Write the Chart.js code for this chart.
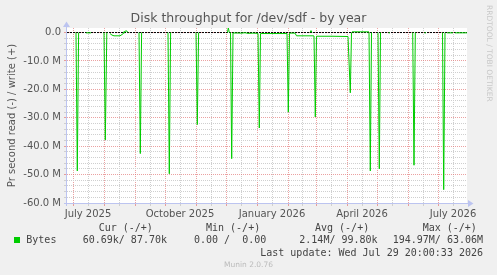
<!DOCTYPE html>
<html>
<head>
<meta charset="utf-8">
<title>Disk throughput for /dev/sdf - by year</title>
<script src="https://cdn.jsdelivr.net/npm/chart.js@4.4.1/dist/chart.umd.min.js"></script>
<style>
  html, body { margin: 0; padding: 0; background: #F0F0F0; }
  #wrap { width: 497px; height: 275px; }
</style>
</head>
<body>
<div id="wrap"><canvas id="chart" width="497" height="275"></canvas></div>
<script>
// Disk throughput for /dev/sdf - by year (munin style graph)

// x = days since 2025-06-25, 400 days shown
const monthStartDays = [6, 37, 68, 98, 129, 159, 190, 221, 249, 280, 310, 341, 371];
const midMonthDays = [21, 52, 83, 113, 144, 174, 205, 235, 264, 295, 325, 356, 386];
const xLabelDays = [21, 113, 205, 295, 386];
const xLabels = ['July 2025', 'October 2025', 'January 2026', 'April 2026', 'July 2026'];

// y in MB per second, read is drawn negative; null = no data
const readDays = [
  9, 10.3, 11.6, 12,
  19, 24, 25,
  37, 38.3, 39.8, 40,
  43, 45, 47, 53, 55, 57, 58, 59,
  72, 73.3, 74.6, 75,
  101, 102.3, 103.6, 104,
  129, 130.3, 131.6, 132,
  163.5, 164.7, 166, 175, 178, 181, 186, 191, 192.3, 193.5, 205, 220, 221.3, 222.5, 228, 229.5, 246, 247, 248.3, 249.5, 265, 281, 283.3, 284.5, 285,
  302, 303.3, 304.5, 305,
  311, 312.3, 313.5, 314,
  321.5, 323, 324,
  345.7, 347, 348.3, 349,
  357.5, 359, 360,
  375.5, 376.7, 378, 379,
  380, 386, 387,
  388, 400
];
const readValues = [
  0, -48.7, 0, null,
  -0.1, -0.1, null,
  0, -37.8, 0, null,
  -0.35, -0.9, -1.15, -1.15, -0.7, -0.1, 0, null,
  0, -42.6, 0, null,
  0, -49.7, 0, null,
  0, -32.4, 0, null,
  0, -44.4, -0.15, -0.2, -0.05, -0.3, -0.2, -0.3, -33.6, -0.35, -0.35, -0.35, -28.0, -0.2, -0.2, -1.15, -1.15, -1.2, -29.7, -1.3, -1.3, -1.4, -21.2, 0, null,
  0, -48.7, 0, null,
  0, -48.0, 0, null,
  -0.1, -0.1, null,
  0, -46.7, 0, null,
  -0.1, -0.1, null,
  0, -55.3, 0, null,
  -0.1, -0.1, null,
  -0.1, -0.1
];
const writeDays = [56, 58, 59, 60, 61, 62, 160.5, 161.3, 162.3, 163, 243, 244, 245, 246, 285, 302, 303];
const writeValues = [0, 0.4, 0.6, 0.5, 0, null, 0, 1.75, 0, null, 0, 0.7, 0, null, 0.25, 0.25, null];

const yTickValues = Array.from({ length: 31 }, (_, i) => -60 + 2 * i);

// legend
const legendHeaders = ['Cur (-/+)', 'Min (-/+)', 'Avg (-/+)', 'Max (-/+)'];
const legendValues = ['60.69k/ 87.70k', '0.00 /  0.00', '2.14M/ 99.80k', '194.97M/ 63.06M'];
const seriesName = 'Bytes';
const lastUpdate = 'Last update: Wed Jul 29 20:00:33 2026';

const GREEN = '#00CC00';
const MAJOR_GRID = 'rgba(225, 110, 110, 0.65)';
const MINOR_GRID = '#CFCFCF';
const AXIS = '#BCC4F0';

function toPoints(days, values) {
    return days.map((d, i) => ({ x: d, y: values[i] }));
}

const rrdDecor = {
    id: 'rrdDecor',
    beforeDraw(chart) {
        const { ctx, chartArea: a } = chart;
        ctx.save();
        ctx.fillStyle = '#F0F0F0';
        ctx.fillRect(0, 0, chart.width, chart.height);
        ctx.fillStyle = '#FFFFFF';
        ctx.fillRect(a.left, a.top, a.right - a.left, a.bottom - a.top);
        ctx.restore();
    },
    afterDraw(chart) {
        const { ctx, chartArea: a } = chart;
        ctx.save();

        // axes with arrows
        ctx.strokeStyle = AXIS;
        ctx.fillStyle = AXIS;
        ctx.lineWidth = 1;
        ctx.beginPath();
        ctx.moveTo(a.left - 0.5, a.bottom + 3);
        ctx.lineTo(a.left - 0.5, a.top - 2);
        ctx.moveTo(a.left - 3, a.bottom + 0.5);
        ctx.lineTo(a.right + 2, a.bottom + 0.5);
        ctx.stroke();
        ctx.beginPath();
        ctx.moveTo(a.left - 0.5, a.top - 6.5);
        ctx.lineTo(a.left - 4, a.top - 1);
        ctx.lineTo(a.left + 3, a.top - 1);
        ctx.closePath();
        ctx.fill();
        ctx.beginPath();
        ctx.moveTo(a.right + 6.5, a.bottom + 0.5);
        ctx.lineTo(a.right + 1, a.bottom - 3);
        ctx.lineTo(a.right + 1, a.bottom + 4);
        ctx.closePath();
        ctx.fill();

        // title
        ctx.fillStyle = '#555555';
        ctx.font = '12.5px "DejaVu Sans"';
        ctx.textAlign = 'center';
        ctx.textBaseline = 'alphabetic';
        ctx.fillText('Disk throughput for /dev/sdf - by year', 248.5, 22);

        // y axis title
        ctx.save();
        ctx.translate(15, (a.top + a.bottom) / 2);
        ctx.rotate(-Math.PI / 2);
        ctx.font = '10px "DejaVu Sans"';
        ctx.fillText('Pr second read (-) / write (+)', 0, 0);
        ctx.restore();

        // watermark
        ctx.save();
        ctx.translate(487, 5);
        ctx.rotate(Math.PI / 2);
        ctx.fillStyle = '#C8C8C8';
        ctx.font = '7.5px "DejaVu Sans"';
        ctx.textAlign = 'left';
        ctx.fillText('RRDTOOL / TOBI OETIKER', 0, 0);
        ctx.restore();

        // legend
        ctx.fillStyle = '#444444';
        ctx.font = '10px "DejaVu Sans Mono"';
        ctx.textAlign = 'left';
        const headerX = [98.7, 206, 315, 422.7];
        legendHeaders.forEach((h, i) => ctx.fillText(h, headerX[i], 231));
        ctx.fillText(seriesName, 26.3, 243);
        const valueX = [82.7, 194, 299.3, 392.7];
        legendValues.forEach((v, i) => ctx.fillText(v, valueX[i], 243));
        ctx.textAlign = 'right';
        ctx.fillText(lastUpdate, 483, 255.5);
        ctx.fillStyle = GREEN;
        ctx.fillRect(14, 237, 6, 6);

        ctx.fillStyle = '#BBBBBB';
        ctx.font = '7.5px "DejaVu Sans"';
        ctx.textAlign = 'center';
        ctx.fillText('Munin 2.0.76', 248.5, 266.5);

        ctx.restore();
    }
};

new Chart(document.getElementById('chart'), {
    type: 'line',
    data: {
        datasets: [
            {
                label: 'zero',
                data: [{ x: 0, y: 0 }, { x: 400, y: 0 }],
                borderColor: '#000000',
                borderWidth: 1,
                borderDash: [2, 1],
                order: 3
            },
            {
                label: 'write',
                data: toPoints(writeDays, writeValues),
                borderColor: GREEN,
                borderWidth: 1,
                order: 2
            },
            {
                label: 'read',
                data: toPoints(readDays, readValues),
                borderColor: GREEN,
                borderWidth: 1,
                order: 1
            }
        ]
    },
    options: {
        responsive: false,
        animation: false,
        devicePixelRatio: 1,
        spanGaps: false,
        layout: { padding: { left: 0, top: 28, right: 30, bottom: 0 } },
        elements: { point: { radius: 0 }, line: { tension: 0 } },
        plugins: {
            legend: { display: false },
            tooltip: { enabled: false },
            title: { display: false }
        },
        scales: {
            x: {
                type: 'linear',
                min: 0,
                max: 400,
                bounds: 'data',
                afterFit: s => { s.height = 72; },
                afterBuildTicks: s => {
                    const ticks = monthStartDays.map(d => ({ value: d, isMonth: true }))
                        .concat(midMonthDays.map(d => ({ value: d, isMonth: false })));
                    ticks.sort((p, q) => p.value - q.value);
                    s.ticks = ticks;
                },
                ticks: {
                    autoSkip: false,
                    maxRotation: 0,
                    minRotation: 0,
                    padding: 2,
                    color: '#555555',
                    font: { family: 'DejaVu Sans', size: 10 },
                    callback: v => {
                        const i = xLabelDays.indexOf(v);
                        return i >= 0 ? xLabels[i] : '';
                    }
                },
                grid: {
                    color: ctx => (ctx.tick && ctx.tick.isMonth) ? MAJOR_GRID : MINOR_GRID,
                    lineWidth: 1,
                    tickLength: 3
                },
                border: { display: false, dash: [1, 1] }
            },
            y: {
                min: -60,
                max: 1.6,
                bounds: 'data',
                afterFit: s => { s.width = 67; },
                afterBuildTicks: s => {
                    s.ticks = yTickValues.map(v => ({ value: v }));
                },
                ticks: {
                    autoSkip: false,
                    padding: 3,
                    color: '#555555',
                    font: { family: 'DejaVu Sans', size: 10 },
                    callback: v => (v % 10 !== 0) ? '' : (v === 0 ? '0.0' : v.toFixed(1) + ' M')
                },
                grid: {
                    color: ctx => (ctx.tick && ctx.tick.value % 10 === 0) ? MAJOR_GRID : MINOR_GRID,
                    lineWidth: 1,
                    tickLength: 3
                },
                border: { display: false, dash: [1, 1] }
            }
        }
    },
    plugins: [rrdDecor]
});
</script>
</body>
</html>
